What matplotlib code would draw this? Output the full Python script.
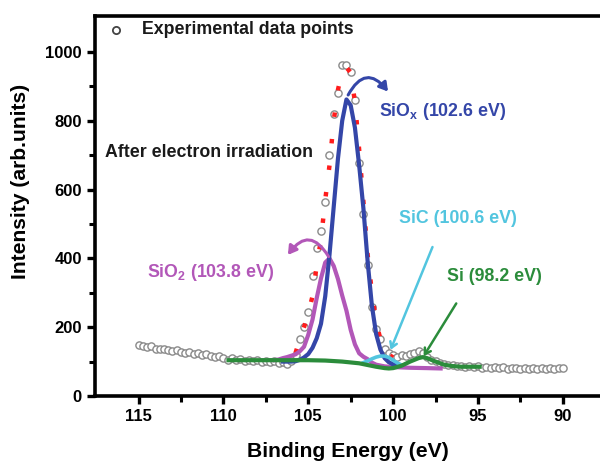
import matplotlib
matplotlib.use("Agg")
import matplotlib.pyplot as plt
from matplotlib.patches import FancyArrowPatch

plt.rcParams['font.family'] = ['Liberation Sans', 'DejaVu Sans']
plt.rcParams['font.weight'] = 'bold'
plt.rcParams['mathtext.fontset'] = 'custom'
plt.rcParams['mathtext.bf'] = 'Liberation Sans:bold'
plt.rcParams['mathtext.rm'] = 'Liberation Sans:bold'

# ---------------- data ----------------
exp_energy = [115.0, 114.75, 114.5, 114.25, 114.0, 113.75, 113.5, 113.25, 113.0, 112.75,
              112.5, 112.25, 112.0, 111.75, 111.5, 111.25, 111.0, 110.75, 110.5, 110.25,
              110.0, 109.75, 109.5, 109.25, 109.0, 108.75, 108.5, 108.25, 108.0, 107.75,
              107.5, 107.25, 107.0, 106.75, 106.5, 106.25, 106.0, 105.75, 105.5, 105.25,
              105.0, 104.75, 104.5, 104.25, 104.0, 103.75, 103.5, 103.25, 103.0, 102.75,
              102.5, 102.25, 102.0, 101.75, 101.5, 101.25, 101.0, 100.75, 100.5, 100.25,
              100.0, 99.75, 99.5, 99.25, 99.0, 98.75, 98.5, 98.25, 98.0, 97.75,
              97.5, 97.25, 97.0, 96.75, 96.5, 96.25, 96.0, 95.75, 95.5, 95.25,
              95.0, 94.75, 94.5, 94.25, 94.0, 93.75, 93.5, 93.25, 93.0, 92.75,
              92.5, 92.25, 92.0, 91.75, 91.5, 91.25, 91.0, 90.75, 90.5, 90.25, 90.0]
exp_intensity = [148, 146, 141, 144, 138, 136, 138, 133, 131, 134,
                 127, 125, 128, 121, 124, 118, 121, 115, 112, 117,
                 109, 106, 111, 105, 108, 103, 106, 101, 104, 100,
                 103, 98, 101, 96, 99, 94, 102, 118, 165, 200,
                 245, 350, 430, 480, 565, 700, 820, 880, 962, 962,
                 943, 860, 677, 530, 380, 260, 195, 165, 138, 126,
                 118, 114, 120, 117, 123, 126, 130, 124, 114, 106,
                 101, 96, 92, 89, 91, 86, 88, 84, 87, 83,
                 86, 82, 85, 81, 84, 80, 83, 79, 82, 80,
                 78, 81, 79, 82, 78, 80, 77, 81, 79, 82, 80]

fit_energy = [105.75, 105.5, 105.25, 105.0, 104.75, 104.5, 104.25, 104.0, 103.75, 103.5,
              103.25, 103.0, 102.75, 102.5, 102.25, 102.0, 101.75, 101.5, 101.25, 101.0,
              100.75, 100.5, 100.25, 100.0]
fit_intensity = [125, 165, 200, 240, 290, 380, 455, 570, 670, 800,
                 890, 945, 955, 940, 855, 715, 565, 410, 300, 215,
                 165, 135, 120, 112]

siox_energy = [106.5, 106.0, 105.75, 105.5, 105.25, 105.0, 104.75, 104.5, 104.25, 104.0,
               103.75, 103.5, 103.25, 103.0, 102.75, 102.5, 102.25, 102.0, 101.75, 101.5,
               101.25, 101.0, 100.75, 100.5, 100.25, 100.0, 99.75]
siox_intensity = [100, 100, 101, 105, 112, 122, 140, 168, 210, 290,
                  410, 550, 690, 800, 862, 845, 780, 670, 545, 390,
                  262, 180, 135, 110, 98, 92, 90]

sio2_energy = [107.0, 106.75, 106.5, 106.25, 106.0, 105.75, 105.5, 105.25, 105.0, 104.75,
               104.5, 104.25, 104.0, 103.75, 103.5, 103.25, 103.0, 102.75, 102.5, 102.25,
               102.0, 101.75, 101.5, 101.25, 101.0, 100.5, 100.0, 99.0, 98.0, 97.2]
sio2_intensity = [104, 106, 110, 113, 117, 121, 130, 143, 178, 222,
                  285, 342, 388, 400, 378, 340, 292, 248, 192, 150,
                  124, 114, 107, 97, 91, 86, 84, 82, 81, 80]

sic_energy = [101.75, 101.5, 101.25, 101.0, 100.75, 100.5, 100.25, 100.0, 99.75, 99.5]
sic_intensity = [97, 102, 108, 113, 116, 116, 112, 104, 96, 90]

si_energy = [109.7, 109.0, 108.0, 107.0, 106.0, 105.0, 104.0, 103.0, 102.0, 101.5,
             101.0, 100.5, 100.25, 100.0, 99.5, 99.0, 98.5, 98.25, 98.0, 97.5,
             97.0, 96.5, 96.0, 95.5, 94.9]
si_intensity = [104, 104, 104, 104, 104, 104, 103, 100, 95, 90,
                85, 81, 80, 81, 88, 100, 110, 113, 110, 100,
                91, 87, 85, 85, 85]

x_ticks = [115, 110, 105, 100, 95, 90]
y_ticks = [0, 200, 400, 600, 800, 1000]

# colours
c_blue = '#3446a8'
c_purple = '#b257b8'
c_cyan = '#52c5df'
c_green = '#2b8c3b'
c_red = '#ff1c1c'

fig = plt.figure(figsize=(6.0, 4.62), dpi=100)
ax = fig.add_axes([0.1585, 0.1429, 0.8415, 0.8235])

ax.plot(exp_energy, exp_intensity, 'o', ms=5.2, mfc='white', mec='#8a8a8a', mew=1.0, zorder=2)
ax.plot(fit_energy, fit_intensity, color=c_red, lw=3.2, ls=(0, (1.0, 5.0)), zorder=3)
ax.plot(sio2_energy, sio2_intensity, color=c_purple, lw=3.0, zorder=4)
ax.plot(siox_energy, siox_intensity, color=c_blue, lw=3.0, zorder=5)
ax.plot(sic_energy, sic_intensity, color=c_cyan, lw=2.6, zorder=6)
ax.plot(si_energy, si_intensity, color=c_green, lw=3.0, zorder=7)

# arrows
ax.add_patch(FancyArrowPatch((102.65, 875), (100.3, 885), connectionstyle='arc3,rad=-0.75',
                             arrowstyle='-|>,head_length=5,head_width=3', color=c_blue, lw=2.2,
                             shrinkA=0, shrinkB=0, zorder=8))
ax.add_patch(FancyArrowPatch((103.8, 405), (106.2, 410), connectionstyle='arc3,rad=0.75',
                             arrowstyle='-|>,head_length=5,head_width=3', color=c_purple, lw=2.2,
                             shrinkA=0, shrinkB=0, zorder=8))
ax.add_patch(FancyArrowPatch((97.68, 433), (100.15, 134),
                             arrowstyle='->,head_length=4,head_width=2.5', color=c_cyan, lw=1.8,
                             shrinkA=0, shrinkB=0, zorder=8))
ax.add_patch(FancyArrowPatch((96.28, 269), (98.2, 116),
                             arrowstyle='->,head_length=4,head_width=2.5', color=c_green, lw=1.8,
                             shrinkA=0, shrinkB=0, zorder=8))

# texts
tfs = 12.8
ax.plot([116.3], [1064], 'o', ms=5.2, mfc='white', mec='#444444', mew=1.3)
ax.text(114.82, 1064, 'Experimental data points', fontsize=tfs, fontweight='bold',
        va='center', ha='left', color='#1a1a1a')
ax.text(116.95, 709, 'After electron irradiation', fontsize=tfs, fontweight='bold',
        va='center', ha='left', color='#1a1a1a')
ax.text(100.86, 826, 'SiO$_\\mathbf{x}$ (102.6 eV)', fontsize=tfs, fontweight='bold',
        va='center', ha='left', color=c_blue)
ax.text(99.63, 517, 'SiC (100.6 eV)', fontsize=tfs, fontweight='bold',
        va='center', ha='left', color=c_cyan)
ax.text(114.53, 360, 'SiO$_\\mathbf{2}$ (103.8 eV)', fontsize=tfs, fontweight='bold',
        va='center', ha='left', color=c_purple)
ax.text(96.8, 346, 'Si (98.2 eV)', fontsize=tfs, fontweight='bold',
        va='center', ha='left', color=c_green)

ax.set_xlim(117.56, 87.81)
ax.set_ylim(0, 1106)
ax.set_xticks(x_ticks)
ax.set_yticks(y_ticks)
ax.set_xticks([112.5, 107.5, 102.5, 97.5, 92.5], minor=True)
ax.set_yticks([100, 300, 500, 700, 900], minor=True)
ax.tick_params(axis='both', which='major', length=6, width=2.4, labelsize=12, direction='out')
ax.tick_params(axis='both', which='minor', length=4, width=2.2, direction='out')
for lbl in ax.get_xticklabels() + ax.get_yticklabels():
    lbl.set_fontweight('bold')

for s in ['left', 'bottom', 'top']:
    ax.spines[s].set_linewidth(2.6)
ax.spines['right'].set_visible(False)

ax.set_xlabel('Binding Energy (eV)', fontsize=15.2, fontweight='bold', labelpad=13)
ax.set_ylabel('Intensity (arb.units)', fontsize=15.2, fontweight='bold')
ax.yaxis.set_label_coords(-0.128, 0.565)

fig.savefig('out.png', dpi=100)
